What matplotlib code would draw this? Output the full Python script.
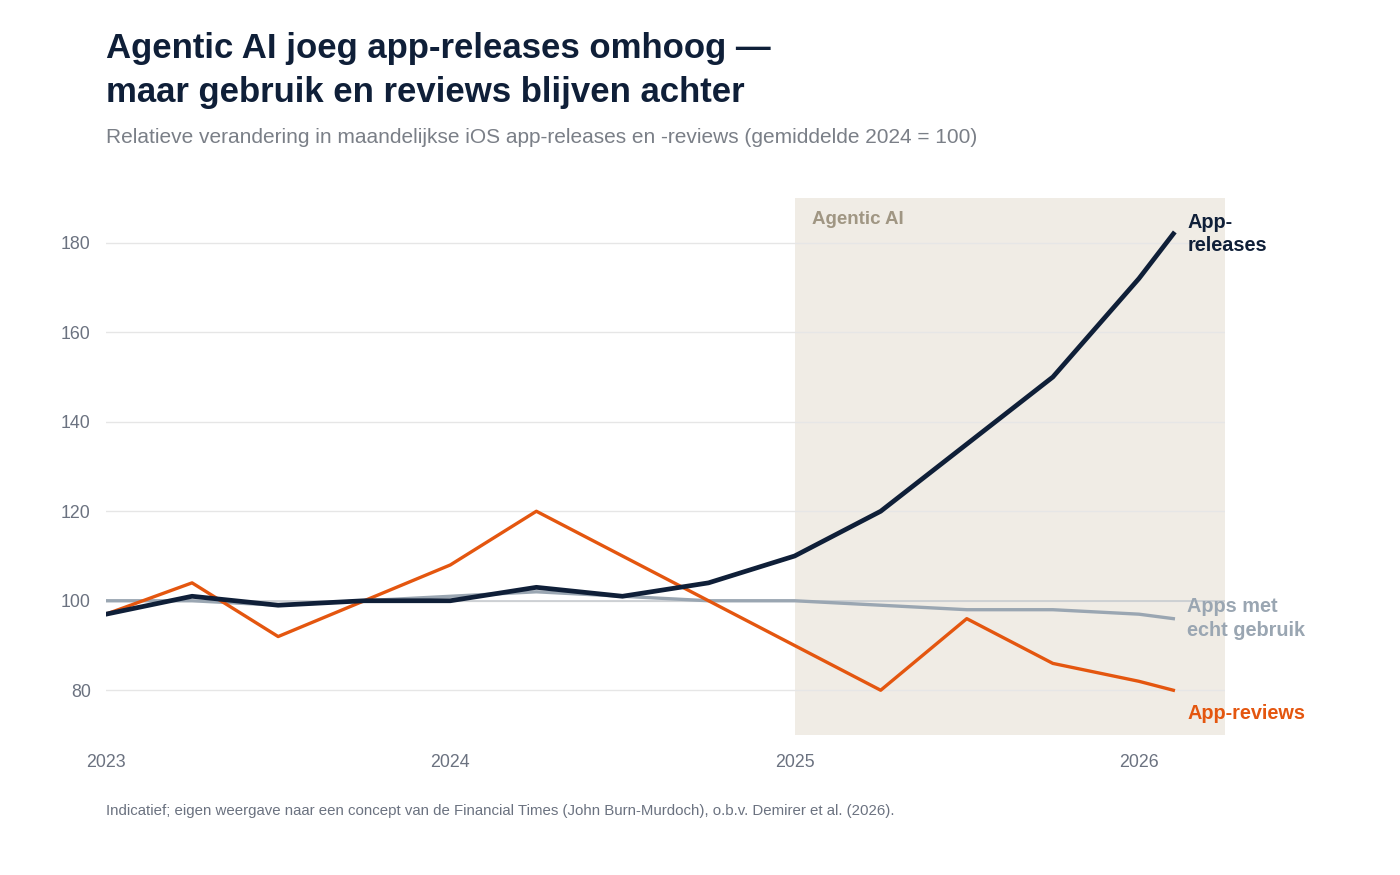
import matplotlib.pyplot as plt

plt.rcParams['font.family'] = ['Liberation Sans', 'DejaVu Sans']

# kwartaalpunten (jaar als decimaal)
x = [2023.0, 2023.25, 2023.5, 2023.75, 2024.0, 2024.25, 2024.5, 2024.75,
     2025.0, 2025.25, 2025.5, 2025.75, 2026.0, 2026.1]
releases = [97, 101, 99, 100, 100, 103, 101, 104, 110, 120, 135, 150, 172, 182]
reviews = [97, 104, 92, 100, 108, 120, 110, 100, 90, 80, 96, 86, 82, 80]
gebruik = [100, 100, 99, 100, 101, 102, 101, 100, 100, 99, 98, 98, 97, 96]

xticks = [2023, 2024, 2025, 2026]
yticks = [80, 100, 120, 140, 160, 180]

navy = '#0f1f38'
oranje = '#e4560f'
grijs = '#9aa6b2'

fig = plt.figure(figsize=(14, 8.75), dpi=100)
ax = fig.add_axes([0.0757, 0.16, 0.7993, 0.6137])

ax.axvspan(2025.0, 2026.25, color='#f0ece5', zorder=0, lw=0)
ax.text(2025.05, 185.3, 'Agentic AI', color='#a09683', fontsize=13.5,
        fontweight='bold', va='center', ha='left')

for yv in yticks:
    ax.axhline(yv, color='#e6e6e6', lw=1, zorder=1)
ax.axhline(100, color='#c8ccd0', lw=1.2, zorder=1)

ax.plot(x, gebruik, color=grijs, lw=2.4, zorder=3, solid_joinstyle='round')
ax.plot(x, reviews, color=oranje, lw=2.4, zorder=4, solid_joinstyle='round')
ax.plot(x, releases, color=navy, lw=3.4, zorder=5, solid_joinstyle='round')

lab = dict(textcoords='offset points', fontsize=14.3, fontweight='bold',
           va='center', ha='left', linespacing=1.3)
ax.annotate('App-\nreleases', xy=(x[-1], releases[-1]), xytext=(10, 0),
            color=navy, **lab)
ax.annotate('Apps met\necht gebruik', xy=(x[-1], gebruik[-1]), xytext=(10, 0),
            color=grijs, **lab)
ax.annotate('App-reviews', xy=(x[-1], reviews[-1]), xytext=(10, -17),
            color=oranje, **lab)

ax.set_xlim(2023.0, 2026.25)
ax.set_ylim(70, 190)
ax.set_xticks(xticks)
ax.set_xticklabels([str(t) for t in xticks])
ax.set_yticks(yticks)
for s in ax.spines.values():
    s.set_visible(False)
ax.tick_params(axis='both', length=0, labelsize=12.8, labelcolor='#6b7280')
ax.tick_params(axis='x', pad=14)
ax.tick_params(axis='y', pad=11)

fig.text(0.0757, 0.963, 'Agentic AI joeg app-releases omhoog —\nmaar gebruik en reviews blijven achter',
         fontsize=25, fontweight='bold', color=navy, va='top', ha='left', linespacing=1.42)
fig.text(0.0757, 0.843, 'Relatieve verandering in maandelijkse iOS app-releases en -reviews (gemiddelde 2024 = 100)',
         fontsize=15, color='#7a7f87', va='center', ha='left')
fig.text(0.0757, 0.073, 'Indicatief; eigen weergave naar een concept van de Financial Times (John Burn-Murdoch), o.b.v. Demirer et al. (2026).',
         fontsize=10.8, color='#6b7280', va='center', ha='left')

fig.savefig('out.png', dpi=100, facecolor='white')
